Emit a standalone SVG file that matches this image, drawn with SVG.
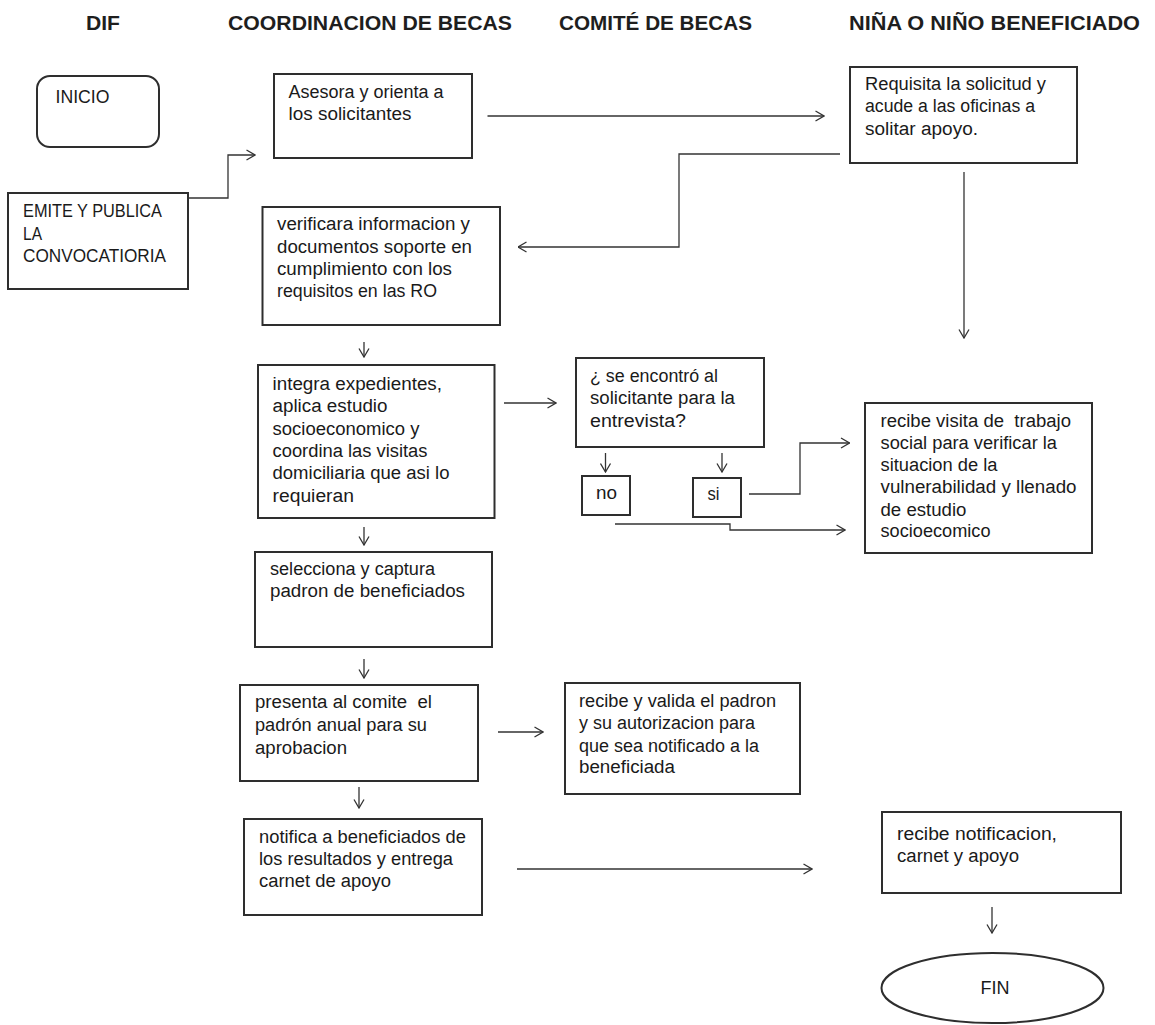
<svg xmlns="http://www.w3.org/2000/svg" width="1155" height="1025" viewBox="0 0 1155 1025">
<style>
.bg{fill:#ffffff}
.box{fill:#ffffff;stroke:#2e2e2e;stroke-width:2}
.hd{font-family:"Liberation Sans",Arial,sans-serif;font-size:20px;font-weight:bold;fill:#1e1e1e}
.t{font-family:"Liberation Sans",Arial,sans-serif;font-size:18px;fill:#1a1a1a}
.c{fill:none;stroke:#333333;stroke-width:1.3}
</style>
<defs>
<marker id="arr" viewBox="0 0 10 12" refX="9.5" refY="6" markerWidth="10" markerHeight="12" markerUnits="userSpaceOnUse" orient="auto">
<path d="M1,1 L9.5,6 L1,11" fill="none" stroke="#333333" stroke-width="1.3"/>
</marker>
</defs>
<rect class="bg" x="0" y="0" width="1155" height="1025"/>

<g id="headers">
<text class="hd" x="86" y="30" textLength="34" lengthAdjust="spacingAndGlyphs">DIF</text>
<text class="hd" x="228" y="30" textLength="284" lengthAdjust="spacingAndGlyphs">COORDINACION DE BECAS</text>
<text class="hd" x="559" y="30" textLength="193" lengthAdjust="spacingAndGlyphs">COMITÉ DE BECAS</text>
<text class="hd" x="849" y="30" textLength="291" lengthAdjust="spacingAndGlyphs">NIÑA O NIÑO BENEFICIADO</text>
</g>

<g id="inicio">
<rect class="box" x="37" y="76" width="122" height="71" rx="13"/>
<text class="t" x="55.5" y="103" textLength="54" lengthAdjust="spacingAndGlyphs">INICIO</text>
</g>

<g id="emite">
<rect class="box" x="8" y="193" width="180" height="96"/>
<text class="t" x="23" y="217" textLength="139" lengthAdjust="spacingAndGlyphs">EMITE Y PUBLICA</text>
<text class="t" x="23" y="240" textLength="19" lengthAdjust="spacingAndGlyphs">LA</text>
<text class="t" x="23" y="262" textLength="143" lengthAdjust="spacingAndGlyphs">CONVOCATIORIA</text>
</g>

<g id="asesora">
<rect class="box" x="274" y="74" width="198" height="84"/>
<text class="t" x="288.5" y="98" textLength="155" lengthAdjust="spacingAndGlyphs">Asesora y orienta a</text>
<text class="t" x="288.5" y="120" textLength="123" lengthAdjust="spacingAndGlyphs">los solicitantes</text>
</g>

<g id="requisita">
<rect class="box" x="850" y="67" width="227" height="96"/>
<text class="t" x="865" y="90" textLength="181" lengthAdjust="spacingAndGlyphs">Requisita la solicitud y</text>
<text class="t" x="865" y="112" textLength="170" lengthAdjust="spacingAndGlyphs">acude a las oficinas a</text>
<text class="t" x="865" y="135" textLength="113" lengthAdjust="spacingAndGlyphs">solitar apoyo.</text>
</g>

<g id="verificara">
<rect class="box" x="262.5" y="207" width="237.5" height="118"/>
<text class="t" x="277" y="230" textLength="193" lengthAdjust="spacingAndGlyphs">verificara informacion y</text>
<text class="t" x="277" y="253" textLength="195" lengthAdjust="spacingAndGlyphs">documentos soporte en</text>
<text class="t" x="277" y="275" textLength="175" lengthAdjust="spacingAndGlyphs">cumplimiento con los</text>
<text class="t" x="277" y="297" textLength="160" lengthAdjust="spacingAndGlyphs">requisitos en las RO</text>
</g>

<g id="integra">
<rect class="box" x="258" y="365" width="236.5" height="153"/>
<text class="t" x="272.5" y="390" textLength="169.5" lengthAdjust="spacingAndGlyphs">integra expedientes,</text>
<text class="t" x="272.5" y="412" textLength="115" lengthAdjust="spacingAndGlyphs">aplica estudio</text>
<text class="t" x="272.5" y="435" textLength="147" lengthAdjust="spacingAndGlyphs">socioeconomico y</text>
<text class="t" x="272.5" y="457" textLength="155" lengthAdjust="spacingAndGlyphs">coordina las visitas</text>
<text class="t" x="272.5" y="479" textLength="177" lengthAdjust="spacingAndGlyphs">domiciliaria que asi lo</text>
<text class="t" x="272.5" y="502" textLength="81.5" lengthAdjust="spacingAndGlyphs">requieran</text>
</g>

<g id="pregunta">
<rect class="box" x="576" y="358" width="188" height="89"/>
<text class="t" x="590" y="382" textLength="128" lengthAdjust="spacingAndGlyphs">¿ se encontró al</text>
<text class="t" x="590" y="404" textLength="145" lengthAdjust="spacingAndGlyphs">solicitante para la</text>
<text class="t" x="590" y="427" textLength="96" lengthAdjust="spacingAndGlyphs">entrevista?</text>
</g>

<g id="no">
<rect class="box" x="582" y="476" width="48" height="39"/>
<text class="t" x="596" y="499" textLength="21" lengthAdjust="spacingAndGlyphs">no</text>
</g>

<g id="si">
<rect class="box" x="693" y="478" width="48" height="39"/>
<text class="t" x="707.5" y="500" textLength="12" lengthAdjust="spacingAndGlyphs">si</text>
</g>

<g id="visita">
<rect class="box" x="865" y="403" width="227" height="150"/>
<text class="t" x="880.5" y="427" textLength="190.5" lengthAdjust="spacingAndGlyphs" xml:space="preserve">recibe visita de  trabajo</text>
<text class="t" x="880.5" y="449" textLength="176.5" lengthAdjust="spacingAndGlyphs">social para verificar la</text>
<text class="t" x="880.5" y="471" textLength="117" lengthAdjust="spacingAndGlyphs">situacion de la</text>
<text class="t" x="880.5" y="493" textLength="196" lengthAdjust="spacingAndGlyphs">vulnerabilidad y llenado</text>
<text class="t" x="880.5" y="516" textLength="86" lengthAdjust="spacingAndGlyphs">de estudio</text>
<text class="t" x="880.5" y="537" textLength="110" lengthAdjust="spacingAndGlyphs">socioecomico</text>
</g>

<g id="selecciona">
<rect class="box" x="255" y="552" width="237" height="95"/>
<text class="t" x="270" y="575" textLength="165" lengthAdjust="spacingAndGlyphs">selecciona y captura</text>
<text class="t" x="270" y="597" textLength="195" lengthAdjust="spacingAndGlyphs">padron de beneficiados</text>
</g>

<g id="presenta">
<rect class="box" x="240" y="685" width="238" height="96"/>
<text class="t" x="255" y="708" textLength="177" lengthAdjust="spacingAndGlyphs" xml:space="preserve">presenta al comite  el</text>
<text class="t" x="255" y="731" textLength="172" lengthAdjust="spacingAndGlyphs">padrón anual para su</text>
<text class="t" x="255" y="754" textLength="92" lengthAdjust="spacingAndGlyphs">aprobacion</text>
</g>

<g id="valida">
<rect class="box" x="565" y="683" width="235" height="111"/>
<text class="t" x="579" y="707" textLength="197" lengthAdjust="spacingAndGlyphs">recibe y valida el padron</text>
<text class="t" x="579" y="729" textLength="176" lengthAdjust="spacingAndGlyphs">y su autorizacion para</text>
<text class="t" x="579" y="751.5" textLength="180" lengthAdjust="spacingAndGlyphs">que sea notificado a la</text>
<text class="t" x="579" y="773" textLength="96" lengthAdjust="spacingAndGlyphs">beneficiada</text>
</g>

<g id="notifica">
<rect class="box" x="244" y="819" width="238" height="96"/>
<text class="t" x="259" y="843" textLength="207" lengthAdjust="spacingAndGlyphs">notifica a beneficiados de</text>
<text class="t" x="259" y="865" textLength="194" lengthAdjust="spacingAndGlyphs">los resultados y entrega</text>
<text class="t" x="259" y="887" textLength="132" lengthAdjust="spacingAndGlyphs">carnet de apoyo</text>
</g>

<g id="recibe-notificacion">
<rect class="box" x="882" y="812" width="239" height="81"/>
<text class="t" x="897" y="840" textLength="160" lengthAdjust="spacingAndGlyphs">recibe notificacion,</text>
<text class="t" x="897" y="862" textLength="122" lengthAdjust="spacingAndGlyphs">carnet y apoyo</text>
</g>

<g id="fin">
<ellipse class="box" cx="992.5" cy="988" rx="111" ry="35"/>
<text class="t" x="995" y="994" text-anchor="middle">FIN</text>
</g>

<g id="connectors">
<polyline class="c" points="188,198 228,198 228,155 255,155" marker-end="url(#arr)"/>
<line class="c" x1="487.5" y1="116" x2="824" y2="116" marker-end="url(#arr)"/>
<polyline class="c" points="840,154 679,154 679,247 518,247" marker-end="url(#arr)"/>
<line class="c" x1="964" y1="172" x2="964" y2="338" marker-end="url(#arr)"/>
<line class="c" x1="364" y1="342" x2="364" y2="357" marker-end="url(#arr)"/>
<line class="c" x1="504" y1="403" x2="556" y2="403" marker-end="url(#arr)"/>
<line class="c" x1="364" y1="527" x2="364" y2="545" marker-end="url(#arr)"/>
<line class="c" x1="605.5" y1="453" x2="605.5" y2="472" marker-end="url(#arr)"/>
<line class="c" x1="722" y1="453" x2="722" y2="472" marker-end="url(#arr)"/>
<polyline class="c" points="749,494 800,494 800,443 849.5,443" marker-end="url(#arr)"/>
<polyline class="c" points="615,524 730,524 730,530 845,530" marker-end="url(#arr)"/>
<line class="c" x1="364" y1="659" x2="364" y2="678" marker-end="url(#arr)"/>
<line class="c" x1="498" y1="732" x2="543" y2="732" marker-end="url(#arr)"/>
<line class="c" x1="359" y1="787" x2="359" y2="808" marker-end="url(#arr)"/>
<line class="c" x1="517" y1="869" x2="812" y2="869" marker-end="url(#arr)"/>
<line class="c" x1="992" y1="907" x2="992" y2="933" marker-end="url(#arr)"/>
</g>
</svg>
